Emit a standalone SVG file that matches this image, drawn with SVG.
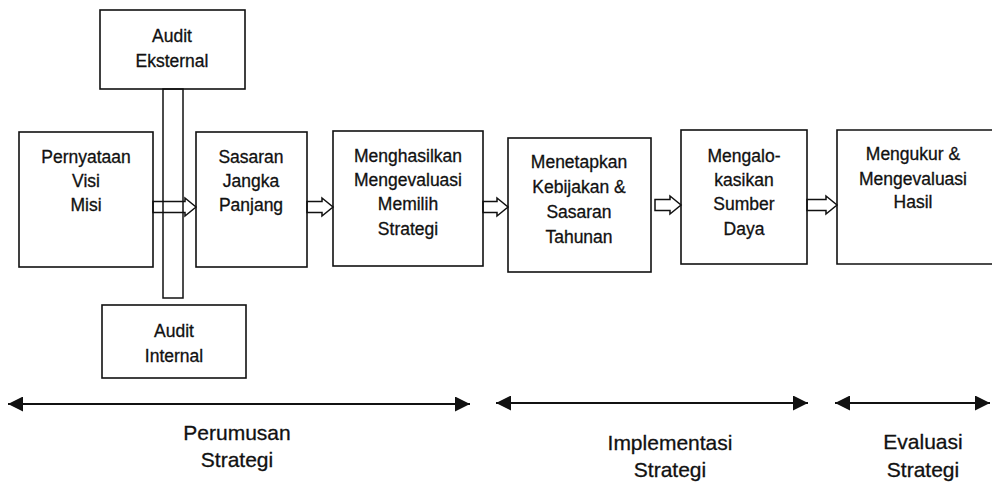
<svg xmlns="http://www.w3.org/2000/svg" width="992" height="486" viewBox="0 0 992 486">
<style>
.box{fill:#fff;stroke:#111;stroke-width:1.6}
.t{font-family:"Liberation Sans",Arial,sans-serif;font-size:17.5px;fill:#111;stroke:#111;stroke-width:0.3;text-anchor:middle}
.b{font-family:"Liberation Sans",Arial,sans-serif;font-size:21px;fill:#111;stroke:#111;stroke-width:0.3;text-anchor:middle}
.blk{fill:none;stroke:#111;stroke-width:1.5;stroke-linejoin:miter}
.line{stroke:#111;stroke-width:2}
</style>
<defs>
<marker id="ah" viewBox="0 0 10 10" refX="10" refY="5" markerWidth="17" markerHeight="15" markerUnits="userSpaceOnUse" orient="auto-start-reverse">
<path d="M0,0 L10,5 L0,10 Z" fill="#111"/>
</marker>
</defs>
<rect width="992" height="486" fill="#fff"/>

<g id="pernyataan">
<rect class="box" x="19" y="132" width="134" height="135"/>
<text class="t" x="86" y="163">Pernyataan</text>
<text class="t" x="86" y="187">Visi</text>
<text class="t" x="86" y="211">Misi</text>
</g>
<g id="audit-eksternal">
<rect class="box" x="100" y="10" width="145" height="79"/>
<text class="t" x="172" y="42">Audit</text>
<text class="t" x="172" y="67">Eksternal</text>
</g>
<g id="audit-internal">
<rect class="box" x="102" y="305" width="144" height="73"/>
<text class="t" x="174" y="337">Audit</text>
<text class="t" x="174" y="362">Internal</text>
</g>
<g id="sasaran">
<rect class="box" x="196" y="132" width="111" height="135"/>
<text class="t" x="251" y="163">Sasaran</text>
<text class="t" x="251" y="187">Jangka</text>
<text class="t" x="251" y="211">Panjang</text>
</g>
<g id="menghasilkan">
<rect class="box" x="333" y="131" width="150" height="135"/>
<text class="t" x="408" y="162">Menghasilkan</text>
<text class="t" x="408" y="186">Mengevaluasi</text>
<text class="t" x="408" y="210">Memilih</text>
<text class="t" x="408" y="235">Strategi</text>
</g>
<g id="menetapkan">
<rect class="box" x="508" y="138" width="143" height="134"/>
<text class="t" x="579" y="168">Menetapkan</text>
<text class="t" x="579" y="193">Kebijakan &amp;</text>
<text class="t" x="579" y="218">Sasaran</text>
<text class="t" x="579" y="243">Tahunan</text>
</g>
<g id="mengalokasikan">
<rect class="box" x="681" y="130" width="126" height="134"/>
<text class="t" x="744" y="162">Mengalo-</text>
<text class="t" x="744" y="186">kasikan</text>
<text class="t" x="744" y="210">Sumber</text>
<text class="t" x="744" y="235">Daya</text>
</g>
<g id="mengukur">
<path class="box" d="M995,130 H837 V264 H995"/>
<text class="t" x="913" y="160">Mengukur &amp;</text>
<text class="t" x="913" y="185">Mengevaluasi</text>
<text class="t" x="913" y="208">Hasil</text>
</g>

<g id="connectors">
<path class="blk" fill="#fff" d="M153,201.5 H185 V198 L196,207 L185,216 V212.5 H153 Z"/>
<rect class="blk" x="163" y="89" width="20" height="209"/>
<path class="blk" fill="#fff" d="M307,201.5 H322 V198 L333,207 L322,216 V212.5 H307 Z"/>
<path class="blk" fill="#fff" d="M483,201.5 H497 V198 L508,207 L497,216 V212.5 H483 Z"/>
<path class="blk" fill="#fff" d="M655,199.5 H670 V196 L681,205 L670,214 V210.5 H655 Z"/>
<path class="blk" fill="#fff" d="M807,199.5 H826 V196 L837,205 L826,214 V210.5 H807 Z"/>
</g>

<g id="phases">
<line class="line" x1="8" y1="404" x2="470" y2="404" marker-start="url(#ah)" marker-end="url(#ah)"/>
<line class="line" x1="496" y1="403" x2="808" y2="403" marker-start="url(#ah)" marker-end="url(#ah)"/>
<line class="line" x1="835" y1="403" x2="990" y2="403" marker-start="url(#ah)" marker-end="url(#ah)"/>
<text class="b" x="237" y="440">Perumusan</text>
<text class="b" x="237" y="467">Strategi</text>
<text class="b" x="670" y="450">Implementasi</text>
<text class="b" x="670" y="477">Strategi</text>
<text class="b" x="923" y="449">Evaluasi</text>
<text class="b" x="923" y="477">Strategi</text>
</g>
</svg>
